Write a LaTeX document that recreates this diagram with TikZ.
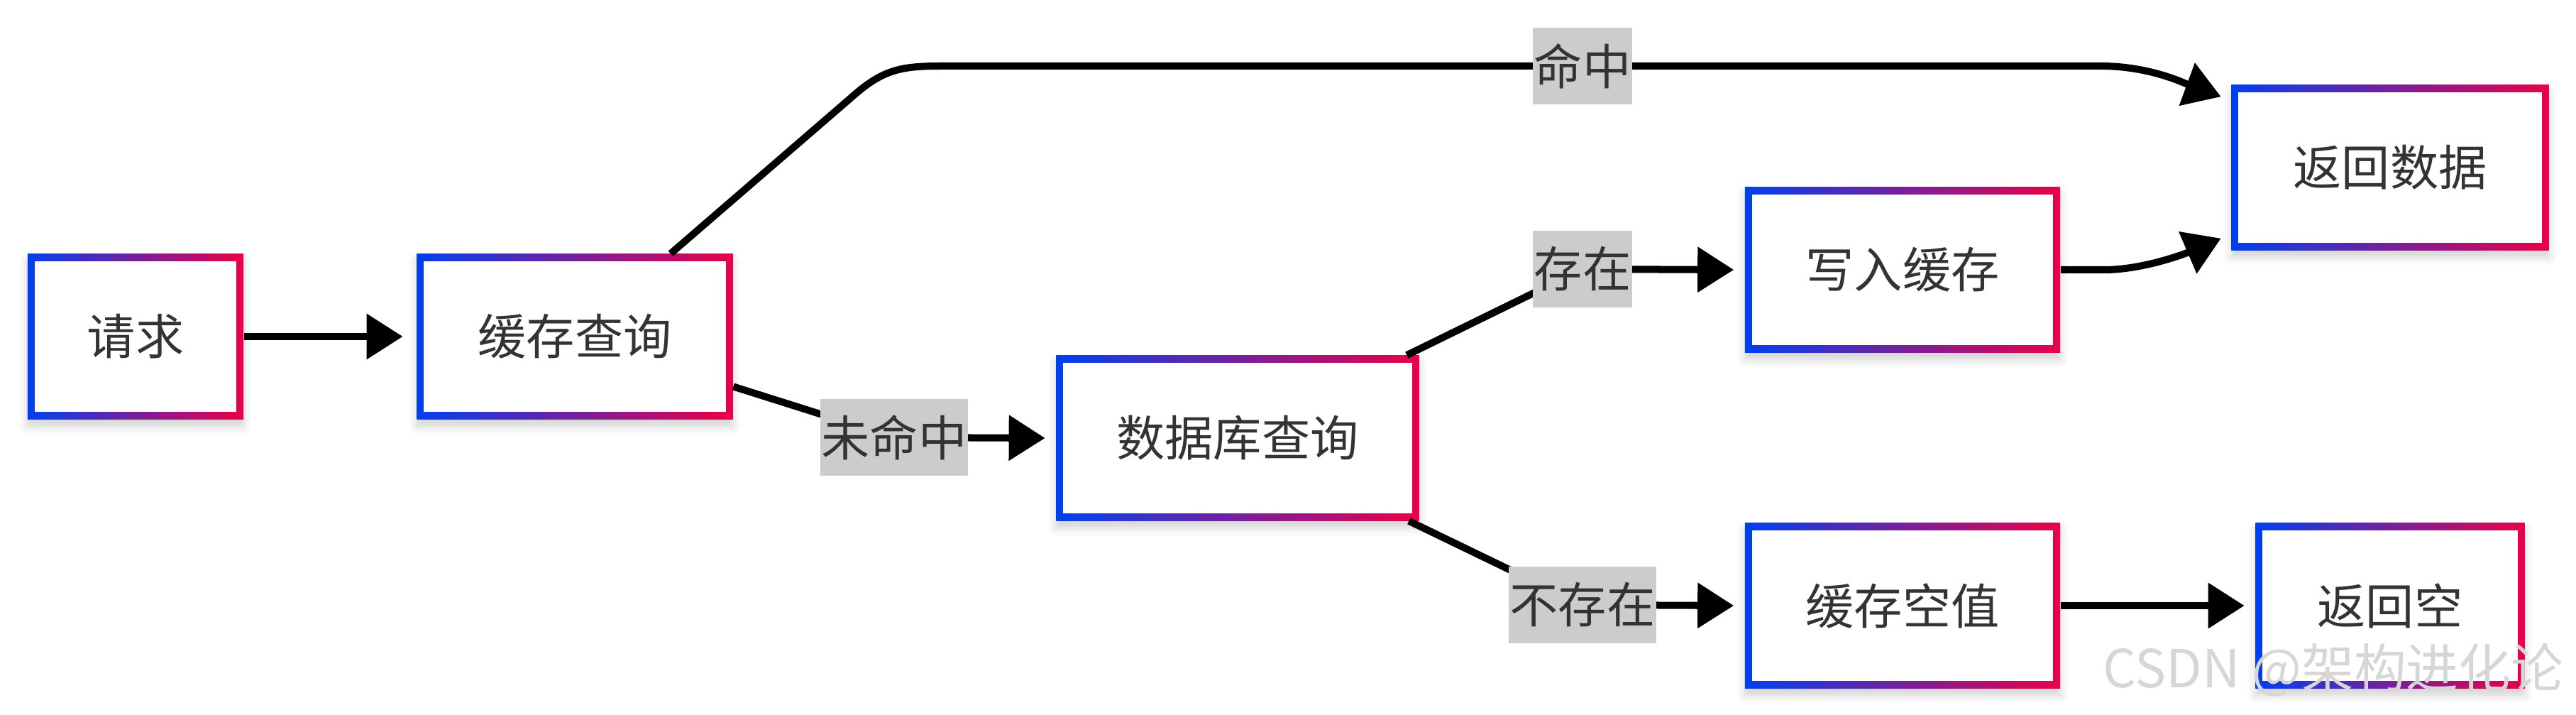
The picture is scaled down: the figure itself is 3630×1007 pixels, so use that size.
\documentclass[tikz,border=0pt]{standalone}
\usepackage{fontspec}
\setmainfont{Noto Sans CJK SC}
\usetikzlibrary{arrows.meta,shadows.blur}
\definecolor{boxblue}{RGB}{0,64,240}
\definecolor{boxred}{RGB}{235,0,72}
\definecolor{inkgray}{RGB}{51,51,51}
\definecolor{taggray}{RGB}{204,204,204}
\definecolor{markgray}{RGB}{214,214,214}
\newcommand{\flowfont}{\fontsize{19.4}{23}\selectfont}
\tikzset{
  flowbox/.style={minimum width=#1, minimum height=2.32cm, inner sep=0pt,
    left color=boxblue, right color=boxred, text=inkgray, font=\flowfont,
    blur shadow={shadow xshift=0pt, shadow yshift=-0.1cm, shadow blur radius=0.12cm, shadow opacity=18},
    path picture={\fill[white] ([shift={(0.1cm,0.1cm)}]path picture bounding box.south west)
      rectangle ([shift={(-0.1cm,-0.1cm)}]path picture bounding box.north east);}},
  tagbox/.style={fill=taggray, draw=none, sharp corners, text=inkgray, font=\flowfont,
    inner xsep=0.02cm, inner ysep=0pt, minimum height=1.07cm},
  flowline/.style={line width=0.1cm, draw=black, -{Triangle[length=0.51cm,width=0.62cm]}},
}

\begin{document}
\begin{tikzpicture}[x=0.01cm, y=-0.01cm]
			%%%%% START %%%%%
			\useasboundingbox (0,0) rectangle (3630,1007);

			% boxes
			\node[flowbox=3.04cm] (req) at (191,474) {请求};
			\node[flowbox=4.45cm] (cache) at (810,474) {缓存查询};
			\node[flowbox=5.11cm] (db) at (1744,617) {数据库查询};
			\node[flowbox=4.44cm] (write) at (2681,380) {写入缓存};
			\node[flowbox=4.47cm] (retdata) at (3368,236) {返回数据};
			\node[flowbox=4.44cm] (cachenull) at (2681,853) {缓存空值};
			\node[flowbox=3.79cm] (retnull) at (3368,853) {返回空};

			% connectors
			\draw[flowline] (req) -- ([xshift=-0.19cm]cache.west);
			\draw[flowline] (cache) -- (1200,137) .. controls (1245,97) and (1270,93) .. (1330,93)
				-- (2230,93) node[tagbox] (hit) {命中}
				-- (2960,93) .. controls (3030,93) and (3080,118) .. ([shift={(-14,17)}]retdata.north west);
			\draw[flowline] (cache) -- (1260,616) node[tagbox] (miss) {未命中} -- ([xshift=-0.15cm]db.west);
			\draw[flowline] (db) -- (2230,379) node[tagbox] (exist) {存在} -- ([xshift=-0.15cm]write.west);
			\draw[flowline] (db) -- (2230,852) node[tagbox] (absent) {不存在} -- ([xshift=-0.15cm]cachenull.west);
			\draw[flowline] (write) -- (2965,380) .. controls (3020,380) and (3080,357) .. ([shift={(-14,-17)}]retdata.south west);
			\draw[flowline] (cachenull) -- ([xshift=-0.15cm]retnull.west);

			% watermark
			\node[text=markgray, font=\fontsize{21}{24}\selectfont, anchor=east] (mark) at (3625,944) {CSDN @架构进化论};
			%%%%% END %%%%%
\end{tikzpicture}
\end{document}
